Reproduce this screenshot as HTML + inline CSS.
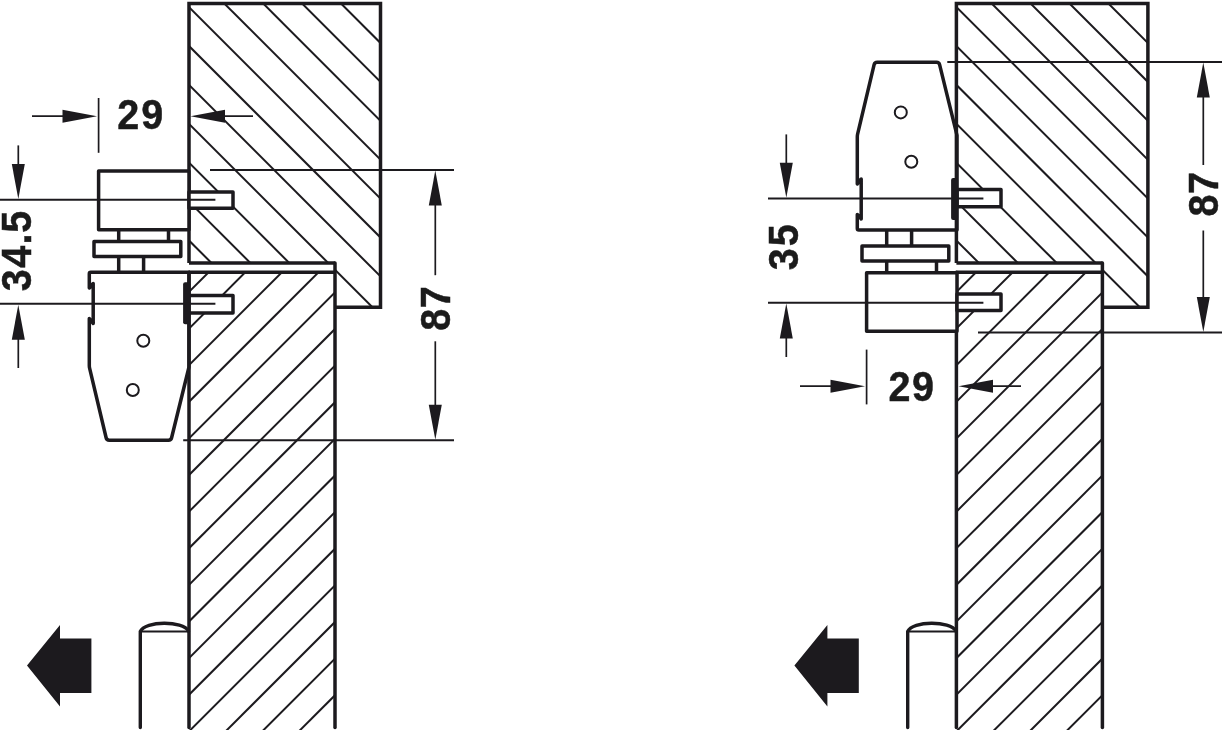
<!DOCTYPE html>
<html><head><meta charset="utf-8"><style>
html,body{margin:0;padding:0;background:#fff;overflow:hidden;}
.wrap{position:relative;width:1227px;height:730px;}
svg{display:block;position:absolute;left:0;top:0;}
svg.t{filter:grayscale(1);}
text{font-family:"Liberation Sans",sans-serif;font-weight:bold;fill:#1c1a1e;stroke:#1c1a1e;stroke-width:0.5px;}
</style></head><body><div class="wrap">
<svg width="1227" height="730" viewBox="0 0 1227 730">
<rect width="1227" height="730" fill="#fff"/>
<g stroke="#1c1a1e" stroke-linecap="butt" stroke-linejoin="round" fill="none">
<clipPath id="fcL"><polygon points="189,3.5 380.5,3.5 380.5,307.3 335,307.3 335,263 189,263"/></clipPath><clipPath id="dcL"><rect x="189" y="272.3" width="146" height="460"/></clipPath><g clip-path="url(#fcL)"><line x1="150" y1="-265.3" x2="420" y2="4.7" stroke-width="2" /><line x1="150" y1="-226.4" x2="420" y2="43.6" stroke-width="2" /><line x1="150" y1="-187.5" x2="420" y2="82.5" stroke-width="2" /><line x1="150" y1="-148.6" x2="420" y2="121.4" stroke-width="2" /><line x1="150" y1="-109.7" x2="420" y2="160.3" stroke-width="2" /><line x1="150" y1="-70.8" x2="420" y2="199.2" stroke-width="2" /><line x1="150" y1="-31.9" x2="420" y2="238.1" stroke-width="2" /><line x1="150" y1="7" x2="420" y2="277" stroke-width="2" /><line x1="150" y1="45.9" x2="420" y2="315.9" stroke-width="2" /><line x1="150" y1="84.8" x2="420" y2="354.8" stroke-width="2" /><line x1="150" y1="123.7" x2="420" y2="393.7" stroke-width="2" /><line x1="150" y1="162.6" x2="420" y2="432.6" stroke-width="2" /><line x1="150" y1="201.5" x2="420" y2="471.5" stroke-width="2" /><line x1="150" y1="240.4" x2="420" y2="510.4" stroke-width="2" /><line x1="150" y1="279.3" x2="420" y2="549.3" stroke-width="2" /><line x1="150" y1="318.2" x2="420" y2="588.2" stroke-width="2" /></g><g clip-path="url(#dcL)"><line x1="150" y1="330.92" x2="380" y2="100.92" stroke-width="2" /><line x1="150" y1="367.54" x2="380" y2="137.54" stroke-width="2" /><line x1="150" y1="404.16" x2="380" y2="174.16" stroke-width="2" /><line x1="150" y1="440.78" x2="380" y2="210.78" stroke-width="2" /><line x1="150" y1="477.4" x2="380" y2="247.4" stroke-width="2" /><line x1="150" y1="514.02" x2="380" y2="284.02" stroke-width="2" /><line x1="150" y1="550.64" x2="380" y2="320.64" stroke-width="2" /><line x1="150" y1="587.26" x2="380" y2="357.26" stroke-width="2" /><line x1="150" y1="623.88" x2="380" y2="393.88" stroke-width="2" /><line x1="150" y1="660.5" x2="380" y2="430.5" stroke-width="2" /><line x1="150" y1="697.12" x2="380" y2="467.12" stroke-width="2" /><line x1="150" y1="733.74" x2="380" y2="503.74" stroke-width="2" /><line x1="150" y1="770.36" x2="380" y2="540.36" stroke-width="2" /><line x1="150" y1="806.98" x2="380" y2="576.98" stroke-width="2" /><line x1="150" y1="843.6" x2="380" y2="613.6" stroke-width="2" /><line x1="150" y1="880.22" x2="380" y2="650.22" stroke-width="2" /><line x1="150" y1="916.84" x2="380" y2="686.84" stroke-width="2" /><line x1="150" y1="953.46" x2="380" y2="723.46" stroke-width="2" /><line x1="150" y1="990.08" x2="380" y2="760.08" stroke-width="2" /><line x1="150" y1="1026.7" x2="380" y2="796.7" stroke-width="2" /></g><polyline points="189,263 189,3.5 380.5,3.5 380.5,307.3 335,307.3" fill="none" stroke-linejoin="miter" stroke-width="3.5"/><line x1="189" y1="263" x2="335" y2="263" stroke-width="3.5" /><line x1="335" y1="263" x2="335" y2="727.5" stroke-width="3.5" stroke-linecap="round"/><line x1="189" y1="272.3" x2="189" y2="727.5" stroke-width="3.5" stroke-linecap="round"/><line x1="189" y1="272.3" x2="335" y2="272.3" stroke-width="3.5" /><line x1="140.3" y1="631.5" x2="189" y2="631.5" stroke-width="1.8" /><path stroke-linecap="round" d="M140.3,727.5 V631.5 C145,620.5 183,620.5 188.5,631" fill="none" stroke-width="3.4"/><polygon points="27,665.6 60,625 60,638.5 91.4,638.5 91.4,693 60,693 60,706.4" fill="#1c1a1e" stroke="none"/><clipPath id="fcR"><polygon points="956.4,3.5 1147.9,3.5 1147.9,307.3 1102.4,307.3 1102.4,263 956.4,263"/></clipPath><clipPath id="dcR"><rect x="956.4" y="272.3" width="146" height="460"/></clipPath><g clip-path="url(#fcR)"><line x1="917.4" y1="-265.3" x2="1187.4" y2="4.7" stroke-width="2" /><line x1="917.4" y1="-226.4" x2="1187.4" y2="43.6" stroke-width="2" /><line x1="917.4" y1="-187.5" x2="1187.4" y2="82.5" stroke-width="2" /><line x1="917.4" y1="-148.6" x2="1187.4" y2="121.4" stroke-width="2" /><line x1="917.4" y1="-109.7" x2="1187.4" y2="160.3" stroke-width="2" /><line x1="917.4" y1="-70.8" x2="1187.4" y2="199.2" stroke-width="2" /><line x1="917.4" y1="-31.9" x2="1187.4" y2="238.1" stroke-width="2" /><line x1="917.4" y1="7" x2="1187.4" y2="277" stroke-width="2" /><line x1="917.4" y1="45.9" x2="1187.4" y2="315.9" stroke-width="2" /><line x1="917.4" y1="84.8" x2="1187.4" y2="354.8" stroke-width="2" /><line x1="917.4" y1="123.7" x2="1187.4" y2="393.7" stroke-width="2" /><line x1="917.4" y1="162.6" x2="1187.4" y2="432.6" stroke-width="2" /><line x1="917.4" y1="201.5" x2="1187.4" y2="471.5" stroke-width="2" /><line x1="917.4" y1="240.4" x2="1187.4" y2="510.4" stroke-width="2" /><line x1="917.4" y1="279.3" x2="1187.4" y2="549.3" stroke-width="2" /><line x1="917.4" y1="318.2" x2="1187.4" y2="588.2" stroke-width="2" /></g><g clip-path="url(#dcR)"><line x1="917.4" y1="330.92" x2="1147.4" y2="100.92" stroke-width="2" /><line x1="917.4" y1="367.54" x2="1147.4" y2="137.54" stroke-width="2" /><line x1="917.4" y1="404.16" x2="1147.4" y2="174.16" stroke-width="2" /><line x1="917.4" y1="440.78" x2="1147.4" y2="210.78" stroke-width="2" /><line x1="917.4" y1="477.4" x2="1147.4" y2="247.4" stroke-width="2" /><line x1="917.4" y1="514.02" x2="1147.4" y2="284.02" stroke-width="2" /><line x1="917.4" y1="550.64" x2="1147.4" y2="320.64" stroke-width="2" /><line x1="917.4" y1="587.26" x2="1147.4" y2="357.26" stroke-width="2" /><line x1="917.4" y1="623.88" x2="1147.4" y2="393.88" stroke-width="2" /><line x1="917.4" y1="660.5" x2="1147.4" y2="430.5" stroke-width="2" /><line x1="917.4" y1="697.12" x2="1147.4" y2="467.12" stroke-width="2" /><line x1="917.4" y1="733.74" x2="1147.4" y2="503.74" stroke-width="2" /><line x1="917.4" y1="770.36" x2="1147.4" y2="540.36" stroke-width="2" /><line x1="917.4" y1="806.98" x2="1147.4" y2="576.98" stroke-width="2" /><line x1="917.4" y1="843.6" x2="1147.4" y2="613.6" stroke-width="2" /><line x1="917.4" y1="880.22" x2="1147.4" y2="650.22" stroke-width="2" /><line x1="917.4" y1="916.84" x2="1147.4" y2="686.84" stroke-width="2" /><line x1="917.4" y1="953.46" x2="1147.4" y2="723.46" stroke-width="2" /><line x1="917.4" y1="990.08" x2="1147.4" y2="760.08" stroke-width="2" /><line x1="917.4" y1="1026.7" x2="1147.4" y2="796.7" stroke-width="2" /></g><polyline points="956.4,263 956.4,3.5 1147.9,3.5 1147.9,307.3 1102.4,307.3" fill="none" stroke-linejoin="miter" stroke-width="3.5"/><line x1="956.4" y1="263" x2="1102.4" y2="263" stroke-width="3.5" /><line x1="1102.4" y1="263" x2="1102.4" y2="727.5" stroke-width="3.5" stroke-linecap="round"/><line x1="956.4" y1="272.3" x2="956.4" y2="727.5" stroke-width="3.5" stroke-linecap="round"/><line x1="956.4" y1="272.3" x2="1102.4" y2="272.3" stroke-width="3.5" /><line x1="907.7" y1="631.5" x2="956.4" y2="631.5" stroke-width="1.8" /><path stroke-linecap="round" d="M907.7,727.5 V631.5 C912.4,620.5 950.4,620.5 955.9,631" fill="none" stroke-width="3.4"/><polygon points="794.4,665.6 827.4,625 827.4,638.5 858.8,638.5 858.8,693 827.4,693 827.4,706.4" fill="#1c1a1e" stroke="none"/><g><rect x="98.6" y="171.1" width="90.4" height="58.6" fill="#fff" stroke-width="3.5"/><line x1="118.7" y1="229.7" x2="118.7" y2="241.5" stroke-width="3.5" /><line x1="168.5" y1="229.7" x2="168.5" y2="241.5" stroke-width="3.5" /><rect x="94" y="241.5" width="86.8" height="14.9" fill="#fff" stroke-width="3.5"/><line x1="118.7" y1="256.4" x2="118.7" y2="272" stroke-width="3.5" /><line x1="143.6" y1="256.4" x2="143.6" y2="272" stroke-width="3.5" /><rect x="189" y="192" width="44" height="16.3" fill="#fff" stroke-width="3.5"/><rect x="189" y="295.6" width="44" height="17.4" fill="#fff" stroke-width="3.5"/><path d="M90.8,272.3 L188.99,272.3 Q189,272.3 189,272.31 L189,366.99 Q189,367 189,367.01 L171.6,437.77 Q171,440.2 168.5,440.2 L109.2,440.2 Q106.7,440.2 106.12,437.77 L89.65,368.46 Q89.3,367 89.3,365.5 L89.3,318.51 Q89.3,318.5 89.31,318.51 L93.19,323.49 Q93.2,323.5 93.2,323.49 L93.2,283.51 Q93.2,283.5 93.19,283.51 L89.31,287.99 Q89.3,288 89.3,287.99 L89.3,273.8 Q89.3,272.3 90.8,272.3 Z" fill="none" stroke-width="3.5"/><rect x="183.1" y="282.3" width="7" height="42" rx="2" fill="#1c1a1e" stroke="none"/><circle cx="143.3" cy="340.7" r="6" fill="none" stroke-width="2.0"/><circle cx="132.8" cy="390" r="6" fill="none" stroke-width="2.0"/><line x1="0" y1="199.7" x2="215.4" y2="199.7" stroke-width="2" /><line x1="0" y1="303.8" x2="215.4" y2="303.8" stroke-width="2" /><line x1="32" y1="116.2" x2="70" y2="116.2" stroke-width="1.7" /><polygon points="97,116.2 62.5,122.7 62.5,109.7" fill="#1c1a1e" stroke="none"/><line x1="98.6" y1="98" x2="98.6" y2="152.8" stroke-width="1.7" /><line x1="215" y1="116.2" x2="253" y2="116.2" stroke-width="1.7" /><polygon points="190.5,116.2 225,109.7 225,122.7" fill="#1c1a1e" stroke="none"/><line x1="18.3" y1="145.4" x2="18.3" y2="170" stroke-width="1.7" /><polygon points="18.3,199 11.8,164 24.8,164" fill="#1c1a1e" stroke="none"/><line x1="18.3" y1="330" x2="18.3" y2="368" stroke-width="1.7" /><polygon points="18.3,304.7 24.8,339.7 11.8,339.7" fill="#1c1a1e" stroke="none"/></g><g transform="translate(768,502.4) scale(1,-1)"><rect x="98.6" y="171.1" width="90.4" height="58.6" fill="#fff" stroke-width="3.5"/><line x1="118.7" y1="229.7" x2="118.7" y2="241.5" stroke-width="3.5" /><line x1="168.5" y1="229.7" x2="168.5" y2="241.5" stroke-width="3.5" /><rect x="94" y="241.5" width="86.8" height="14.9" fill="#fff" stroke-width="3.5"/><line x1="118.7" y1="256.4" x2="118.7" y2="272" stroke-width="3.5" /><line x1="143.6" y1="256.4" x2="143.6" y2="272" stroke-width="3.5" /><rect x="189" y="192" width="44" height="16.3" fill="#fff" stroke-width="3.5"/><rect x="189" y="295.6" width="44" height="17.4" fill="#fff" stroke-width="3.5"/><path d="M90.8,272.3 L188.99,272.3 Q189,272.3 189,272.31 L189,366.99 Q189,367 189,367.01 L171.6,437.77 Q171,440.2 168.5,440.2 L109.2,440.2 Q106.7,440.2 106.12,437.77 L89.65,368.46 Q89.3,367 89.3,365.5 L89.3,318.51 Q89.3,318.5 89.31,318.51 L93.19,323.49 Q93.2,323.5 93.2,323.49 L93.2,283.51 Q93.2,283.5 93.19,283.51 L89.31,287.99 Q89.3,288 89.3,287.99 L89.3,273.8 Q89.3,272.3 90.8,272.3 Z" fill="none" stroke-width="3.5"/><rect x="183.1" y="282.3" width="7" height="42" rx="2" fill="#1c1a1e" stroke="none"/><circle cx="143.3" cy="340.7" r="6" fill="none" stroke-width="2.0"/><circle cx="132.8" cy="390" r="6" fill="none" stroke-width="2.0"/><line x1="0" y1="199.7" x2="215.4" y2="199.7" stroke-width="2" /><line x1="0" y1="303.8" x2="215.4" y2="303.8" stroke-width="2" /><line x1="32" y1="116.2" x2="70" y2="116.2" stroke-width="1.7" /><polygon points="97,116.2 62.5,122.7 62.5,109.7" fill="#1c1a1e" stroke="none"/><line x1="98.6" y1="98" x2="98.6" y2="152.8" stroke-width="1.7" /><line x1="215" y1="116.2" x2="253" y2="116.2" stroke-width="1.7" /><polygon points="190.5,116.2 225,109.7 225,122.7" fill="#1c1a1e" stroke="none"/><line x1="18.3" y1="145.4" x2="18.3" y2="170" stroke-width="1.7" /><polygon points="18.3,199 11.8,164 24.8,164" fill="#1c1a1e" stroke="none"/><line x1="18.3" y1="330" x2="18.3" y2="368" stroke-width="1.7" /><polygon points="18.3,304.7 24.8,339.7 11.8,339.7" fill="#1c1a1e" stroke="none"/></g><line x1="210" y1="170" x2="454" y2="170" stroke-width="2" /><line x1="183.2" y1="440.3" x2="454" y2="440.3" stroke-width="2" /><line x1="435.3" y1="190" x2="435.3" y2="275.2" stroke-width="1.7" /><polygon points="435.3,170.5 441.8,205.5 428.8,205.5" fill="#1c1a1e" stroke="none"/><line x1="435.3" y1="341.3" x2="435.3" y2="420.3" stroke-width="1.7" /><polygon points="435.3,439.8 428.8,404.8 441.8,404.8" fill="#1c1a1e" stroke="none"/><line x1="947.3" y1="61.9" x2="1222" y2="61.9" stroke-width="2" /><line x1="978" y1="332.6" x2="1222" y2="332.6" stroke-width="2" /><line x1="1203.3" y1="81.9" x2="1203.3" y2="165" stroke-width="1.7" /><polygon points="1203.3,62.4 1209.8,97.4 1196.8,97.4" fill="#1c1a1e" stroke="none"/><line x1="1203.3" y1="230.5" x2="1203.3" y2="312.6" stroke-width="1.7" /><polygon points="1203.3,332.1 1196.8,297.1 1209.8,297.1" fill="#1c1a1e" stroke="none"/>
</g>
</svg>
<svg class="t" width="1227" height="730" viewBox="0 0 1227 730">
<text transform="translate(117.33,129.4) scale(0.94,1.015)" font-size="42">2</text><text transform="translate(141.23,129.4) scale(0.94,1.015)" font-size="42">9</text><text transform="translate(888.53,401.1) scale(0.94,1.015)" font-size="42">2</text><text transform="translate(911.93,401.1) scale(0.94,1.015)" font-size="42">9</text><text transform="translate(31.1,291.31) rotate(-90) scale(0.94,1.015)" font-size="42">3</text><text transform="translate(31.1,267.7) rotate(-90) scale(0.94,1.015)" font-size="42">4</text><text transform="translate(31.1,244.48) rotate(-90) scale(0.94,1.015)" font-size="42">.</text><text transform="translate(31.1,232.71) rotate(-90) scale(0.94,1.015)" font-size="42">5</text><text transform="translate(450.25,330.8) rotate(-90) scale(0.94,1.015)" font-size="42">8</text><text transform="translate(450.25,308.25) rotate(-90) scale(0.94,1.015)" font-size="42">7</text><text transform="translate(798.25,270.31) rotate(-90) scale(0.94,1.015)" font-size="42">3</text><text transform="translate(798.25,246.31) rotate(-90) scale(0.94,1.015)" font-size="42">5</text><text transform="translate(1217.65,216.45) rotate(-90) scale(0.94,1.015)" font-size="42">8</text><text transform="translate(1217.65,193.9) rotate(-90) scale(0.94,1.015)" font-size="42">7</text>
</svg>
</div></body></html>
